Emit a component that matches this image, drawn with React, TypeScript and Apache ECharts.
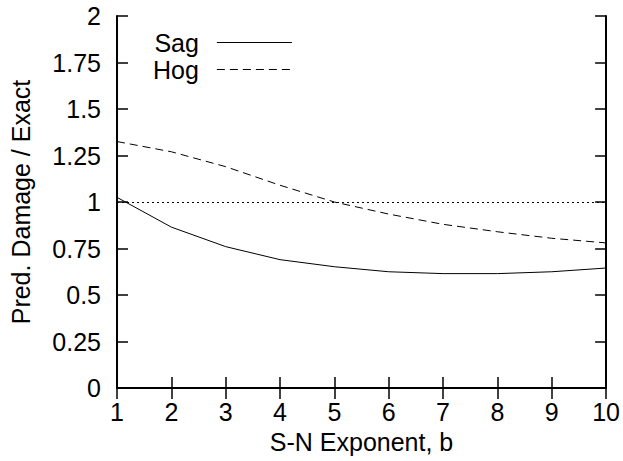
import React, { useEffect, useRef } from "react";
import * as echarts from "echarts";

const xValues = [1, 2, 3, 4, 5, 6, 7, 8, 9, 10];
const sagValues = [1.025, 0.865, 0.76, 0.69, 0.652, 0.625, 0.615, 0.615, 0.625, 0.645];
const hogValues = [1.325, 1.27, 1.19, 1.09, 1.0, 0.935, 0.88, 0.84, 0.805, 0.78];
const referenceValue = 1;
const seriesNames = ["Sag", "Hog"];
const xTitle = "S-N Exponent, b";
const yTitle = "Pred. Damage / Exact";

const FONT = "Liberation Sans, Arial, Helvetica, sans-serif";
const FS = 25;

export default function App() {
  const ref = useRef<HTMLDivElement>(null);
  useEffect(() => {
    document.body.style.margin = "0";
    if (!ref.current) return;
    const chart = echarts.init(ref.current, undefined, { renderer: "svg" });
    const pair = (vals: number[]) => xValues.map((x, i) => [x, vals[i]]);
    const axisLine = { show: true, lineStyle: { color: "#000", width: 2 } };
    const tick = { show: true, inside: true, length: 11, lineStyle: { color: "#000", width: 1.5 } };
    chart.setOption({
      animation: false,
      backgroundColor: "#fff",
      textStyle: { fontFamily: FONT, color: "#000" },
      grid: { left: 117, right: 16, top: 16, bottom: 73, containLabel: false },
      legend: {
        show: true,
        orient: "vertical",
        left: 148,
        top: 25,
        align: "right",
        itemWidth: 75,
        itemHeight: 14,
        itemGap: 2,
        itemStyle: { opacity: 0 },
        lineStyle: { width: 1 },
        data: seriesNames.map((n) => ({ name: n })),
        textStyle: { fontFamily: FONT, fontSize: FS, color: "#000", padding: [0, 13, 0, 0] },
      },
      xAxis: [
        {
          type: "value",
          min: 1,
          max: 10,
          interval: 1,
          name: xTitle,
          nameLocation: "middle",
          nameGap: 41,
          nameTextStyle: { fontFamily: FONT, fontSize: FS, color: "#000" },
          axisLine,
          axisTick: tick,
          axisLabel: { fontFamily: FONT, fontSize: FS, color: "#000", margin: 11 },
          splitLine: { show: false },
        },
        {
          type: "value",
          position: "top",
          min: 1,
          max: 10,
          interval: 1,
          axisLine,
          axisTick: tick,
          axisLabel: { show: false },
          splitLine: { show: false },
        },
      ],
      yAxis: [
        {
          type: "value",
          min: 0,
          max: 2,
          interval: 0.25,
          name: yTitle,
          nameLocation: "middle",
          nameGap: 84,
          nameTextStyle: { fontFamily: FONT, fontSize: FS, color: "#000" },
          axisLine,
          axisTick: tick,
          axisLabel: {
            fontFamily: FONT,
            fontSize: FS,
            color: "#000",
            margin: 16,
            formatter: (v: number) => String(v),
          },
          splitLine: { show: false },
        },
        {
          type: "value",
          position: "right",
          min: 0,
          max: 2,
          interval: 0.25,
          axisLine,
          axisTick: tick,
          axisLabel: { show: false },
          splitLine: { show: false },
        },
      ],
      series: [
        {
          name: seriesNames[0],
          type: "line",
          data: pair(sagValues),
          symbol: "none",
          lineStyle: { color: "#000", width: 1, type: "solid" },
          itemStyle: { color: "#000" },
          markLine: {
            silent: true,
            symbol: "none",
            label: { show: false },
            lineStyle: { color: "#000", width: 1, type: [2, 3] },
            data: [{ yAxis: referenceValue }],
          },
        },
        {
          name: seriesNames[1],
          type: "line",
          data: pair(hogValues),
          symbol: "none",
          lineStyle: { color: "#000", width: 1, type: [8, 5] },
          itemStyle: { color: "#000" },
        },
      ],
    });
    return () => chart.dispose();
  }, []);
  return <div ref={ref} style={{ width: 623, height: 461 }} />;
}
